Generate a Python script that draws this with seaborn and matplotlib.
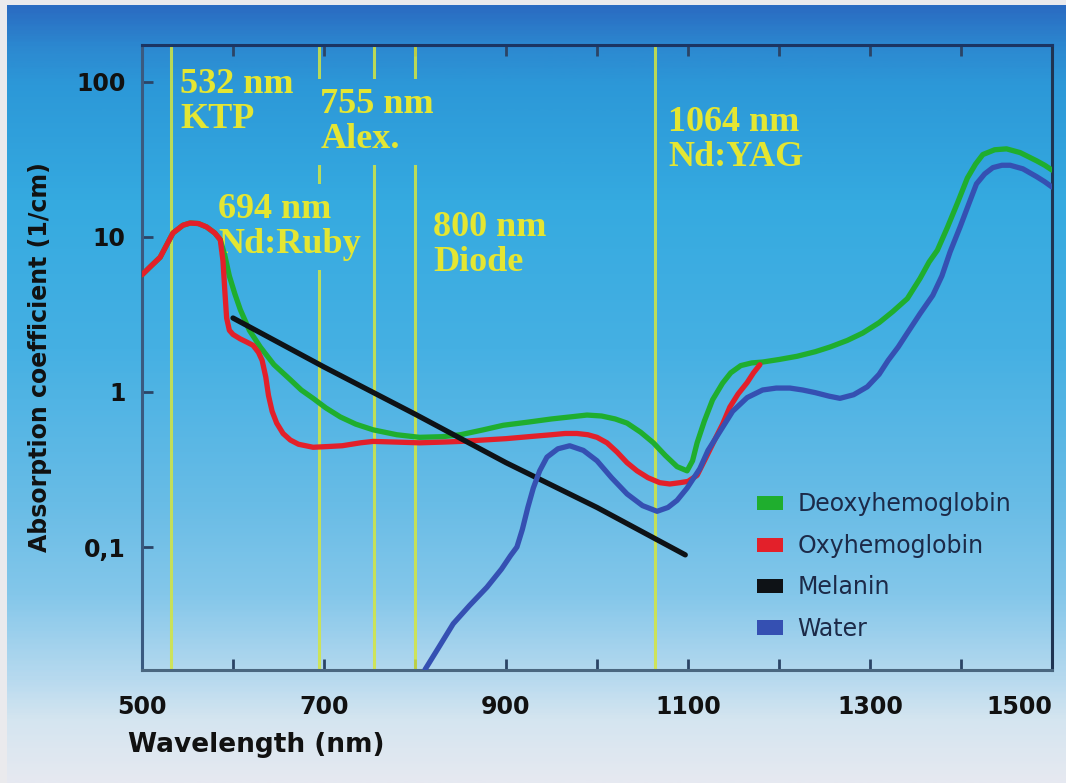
import numpy as np
import pandas as pd
import matplotlib
matplotlib.use("Agg")
import matplotlib.pyplot as plt
import seaborn as sns
from matplotlib.colors import LinearSegmentedColormap
from matplotlib.patches import Patch
from matplotlib.ticker import FixedLocator, FixedFormatter, NullLocator

# absorption spectra (wavelength nm, absorption 1/cm)
deoxy_nm = [500, 510, 520, 534, 545, 553, 562, 571, 580, 586, 591, 596, 602, 608, 618, 630,
            645, 663, 675, 688, 702, 718, 735, 754, 780, 805, 830, 850, 875, 897, 925, 950,
            970, 989, 1005, 1020, 1033, 1048, 1062, 1075, 1088, 1099, 1105, 1110, 1118,
            1127, 1138, 1147, 1158, 1170, 1182, 1200, 1220, 1240, 1256, 1275, 1292, 1310,
            1325, 1341, 1355, 1365, 1374, 1385, 1396, 1407, 1416, 1424, 1437, 1450, 1465,
            1483, 1492, 1500]
deoxy_val = [5.7, 6.5, 7.4, 10.6, 11.9, 12.3, 12.2, 11.6, 10.6, 9.6, 7.6, 5.6, 4.3, 3.4, 2.5, 1.95,
             1.5, 1.2, 1.03, 0.91, 0.79, 0.69, 0.62, 0.57, 0.53, 0.51, 0.515, 0.53, 0.57, 0.61, 0.64, 0.67,
             0.69, 0.71, 0.70, 0.67, 0.63, 0.55, 0.47, 0.39, 0.33, 0.31, 0.36, 0.47, 0.65,
             0.89, 1.14, 1.33, 1.48, 1.54, 1.56, 1.62, 1.7, 1.82, 1.95, 2.15, 2.4, 2.8,
             3.3, 4.0, 5.4, 6.9, 8.2, 11.5, 16.5, 24, 29.5, 34, 36.5, 37, 35,
             31, 29, 27]

oxy_nm = [500, 510, 520, 534, 545, 553, 562, 571, 580, 586, 589, 591, 593, 596, 600, 608,
          615, 622, 628, 632, 636, 639, 643, 648, 655, 663, 672, 688, 705, 720, 740, 754,
          780, 805, 830, 850, 875, 900, 925, 950, 965, 978, 990, 1000, 1011, 1022, 1033,
          1044, 1056, 1069, 1080, 1091, 1100, 1110, 1120, 1130, 1138, 1146, 1155, 1165,
          1172, 1179]
oxy_val = [5.7, 6.5, 7.4, 10.6, 11.9, 12.3, 12.2, 11.6, 10.6, 9.6, 7.0, 4.5, 3.0, 2.5, 2.35, 2.2,
           2.1, 2.0, 1.8, 1.6, 1.25, 0.95, 0.75, 0.63, 0.54, 0.49, 0.46, 0.44, 0.445, 0.45, 0.47, 0.48,
           0.475, 0.47, 0.475, 0.48, 0.49, 0.5, 0.515, 0.53, 0.54, 0.54, 0.53, 0.51, 0.47, 0.41, 0.35,
           0.31, 0.28, 0.26, 0.255, 0.26, 0.265, 0.29, 0.38, 0.5, 0.62, 0.8, 0.97, 1.15,
           1.33, 1.5]

melanin_nm = [600, 700, 800, 900, 1000, 1097]
melanin_val = [3.0, 1.45, 0.72, 0.35, 0.18, 0.089]

water_nm = [811, 825, 842, 860, 879, 895, 905, 912, 918, 924, 930, 937, 945, 957, 970, 985,
            1000, 1016, 1033, 1050, 1066, 1078, 1088, 1099, 1113, 1122, 1132, 1149, 1165,
            1182, 1197, 1212, 1226, 1240, 1255, 1267, 1282, 1297, 1310, 1320, 1331, 1341,
            1355, 1369, 1379, 1388, 1399, 1408, 1417, 1426, 1435, 1445, 1454, 1468, 1483,
            1492, 1500]
water_val = [0.0162, 0.022, 0.032, 0.042, 0.055, 0.072, 0.088, 0.10, 0.13, 0.18, 0.24, 0.31, 0.38, 0.43, 0.45, 0.42,
             0.36, 0.28, 0.22, 0.185, 0.17, 0.18, 0.2, 0.24, 0.32, 0.42, 0.52, 0.75, 0.92,
             1.03, 1.06, 1.06, 1.03, 0.99, 0.94, 0.91, 0.96, 1.08, 1.3, 1.6, 1.95, 2.4,
             3.2, 4.2, 5.6, 8.0, 11.6, 16, 22, 25.5, 28, 29, 29, 27.5, 24.5,
             22.7, 21]

substances = ["Deoxyhemoglobin", "Oxyhemoglobin", "Melanin", "Water"]
colors = ["#1fae2e", "#e3202a", "#0e1216", "#3550b2"]

laser_nm = [532, 694, 755, 800, 1064]
laser_text = ["532 nm\nKTP", "694 nm\nNd:Ruby", "755 nm\nAlex.", "800 nm\nDiode", "1064 nm\nNd:YAG"]

# long table for seaborn
frames = []
for name, xs, ys in zip(substances,
                        [deoxy_nm, oxy_nm, melanin_nm, water_nm],
                        [deoxy_val, oxy_val, melanin_val, water_val]):
    frames.append(pd.DataFrame({"wavelength": xs, "absorption": ys, "substance": name}))
df = pd.concat(frames, ignore_index=True)

sns.set_style("ticks")
plt.rcParams["font.family"] = ["DejaVu Sans"]

fig = plt.figure(figsize=(10.66, 7.83), dpi=100, facecolor="#eaeaed")

# sky-like gradient behind everything
bg_extent = [7 / 1066, 1, 0, 778 / 783]
bg = fig.add_axes([bg_extent[0], 0, 1 - bg_extent[0], bg_extent[3]])
grad = LinearSegmentedColormap.from_list("sky", [
    (0.0, "#2a6cc2"), (0.05, "#2c88d0"), (0.10, "#2c98d8"), (0.25, "#35aae0"),
    (0.44, "#45b0e3"), (0.64, "#68bce6"), (0.76, "#84c7ea"), (0.87, "#b8daef"),
    (0.92, "#d4e5f0"), (1.0, "#e6e9f1")])
ramp = np.linspace(0, 1, 400).reshape(-1, 1)
bg.imshow(ramp, aspect="auto", cmap=grad)
bg.set_axis_off()

ax = fig.add_axes([142 / 1066, 1 - 670 / 783, 910 / 1066, 625 / 783])
ax.set_facecolor("none")

# laser wavelengths
for nm in laser_nm:
    ax.axvline(nm, color="#d4e640", lw=2.2, alpha=0.85, zorder=1)

label_pos = [(542, 123), (583.5, 19.2), (696, 91), (820, 14.7), (1078, 70)]
label_boxed = [False, True, True, False, False]
boxed = []
for txt, (x, y), has_box in zip(laser_text, label_pos, label_boxed):
    t = ax.text(x, y, txt, color="#e4e632", fontsize=26, fontweight="bold",
                family="Liberation Serif", ha="left", va="top", linespacing=1.08,
                zorder=2)
    if has_box:
        t.set_bbox(dict(boxstyle="square,pad=0.25", fc="none", ec="none"))
        boxed.append(t)

sns.lineplot(data=df, x="wavelength", y="absorption", hue="substance",
             hue_order=substances, palette=colors, estimator=None, sort=False,
             lw=3.8, legend=False, ax=ax, zorder=3,
             solid_joinstyle="round", solid_capstyle="round")

ax.set_yscale("log")
ax.set_xlim(500, 1500)
ax.set_ylim(0.0161, 173)

ax.xaxis.set_major_locator(FixedLocator(list(range(500, 1501, 100))))
ax.xaxis.set_major_formatter(FixedFormatter(["500", "", "700", "", "900", "", "1100", "",
                                             "1300", "", "1500"]))
ax.yaxis.set_major_locator(FixedLocator([0.1, 1, 10, 100]))
ax.yaxis.set_major_formatter(FixedFormatter(["0,1", "1", "10", "100"]))
ax.yaxis.set_minor_locator(NullLocator())

ax.tick_params(axis="x", direction="in", top=True, bottom=True, length=8, width=2,
               color="#2b4466", labelsize=17, labelcolor="#111111", pad=18)
ax.tick_params(axis="y", direction="in", left=True, right=False, length=8, width=2,
               color="#2b4466", labelsize=17, labelcolor="#111111", pad=12)
for lab in ax.get_xticklabels() + ax.get_yticklabels():
    lab.set_fontweight("bold")
ax.get_xticklabels()[-1].set_horizontalalignment("right")

for side, c in [("top", "#1b3563"), ("right", "#1f3452"), ("left", "#3a5a80"), ("bottom", "#4a6780")]:
    ax.spines[side].set_visible(True)
    ax.spines[side].set_color(c)
    ax.spines[side].set_linewidth(2.2)

ax.set_xlabel("")
ax.set_ylabel("Absorption coefficient (1/cm)", fontsize=17, fontweight="bold",
              color="#111111", labelpad=17)
fig.text(128 / 1066, 1 - 745 / 783, "Wavelength (nm)", fontsize=19, fontweight="bold",
         color="#111111", ha="left", va="center")

handles = [Patch(facecolor=c, edgecolor="none", label=s) for s, c in zip(substances, colors)]
leg = ax.legend(handles=handles, loc="upper left", bbox_to_anchor=(0.653, 0.318),
                frameon=False, fontsize=17, handlelength=1.1, handleheight=0.55,
                handletextpad=0.6, labelspacing=0.74)
for t in leg.get_texts():
    t.set_color("#1c2a48")

# paint the background gradient again inside the label boxes, so the laser
# lines are hidden behind those two labels without a visible patch
fig.canvas.draw()
for t in boxed:
    im = ax.imshow(ramp, aspect="auto", cmap=grad, transform=fig.transFigure,
                   extent=bg_extent, zorder=1.5)
    im.set_clip_path(t.get_bbox_patch())
ax.set_xlim(500, 1500)
ax.set_ylim(0.0161, 173)

fig.savefig("out.png", dpi=100, facecolor=fig.get_facecolor())
